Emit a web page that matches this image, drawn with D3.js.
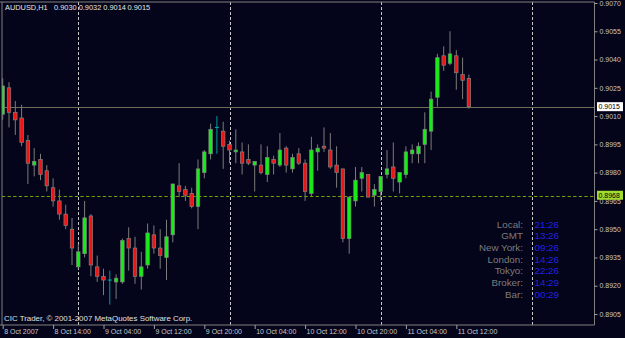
<!DOCTYPE html>
<html>
<head>
<meta charset="utf-8">
<script src="https://d3js.org/d3.v7.min.js"></script>
<style>
  body { margin: 0; background: #04041a; }
  svg { display: block; font-family: "Liberation Sans", Arial, sans-serif; }
</style>
</head>
<body>
<div id="chart"></div>
<script>
// AUDUSD H1 bars (oldest first)
var symbol = "AUDUSD,H1";

var opens = [0.9011, 0.9025, 0.9012, 0.9009, 0.8997, 0.8984, 0.8987, 0.8981, 0.8972, 0.8965,
  0.8958, 0.8950, 0.8930, 0.8937, 0.8957, 0.8930, 0.8925, 0.8923, 0.8922, 0.8922,
  0.8945, 0.8940, 0.8925, 0.8931, 0.8947, 0.8940, 0.8935, 0.8947, 0.8973, 0.8971,
  0.8969, 0.8962, 0.8980, 0.8990, 0.9004, 0.9002, 0.8995, 0.8991, 0.8991, 0.8987,
  0.8984, 0.8984, 0.8979, 0.8987, 0.8984, 0.8993, 0.8982, 0.8990, 0.8985, 0.8969,
  0.8991, 0.8994, 0.8992, 0.8984, 0.8982, 0.8945, 0.8965, 0.8977, 0.8979, 0.8968,
  0.8970, 0.8979, 0.8983, 0.8975, 0.8979, 0.8990, 0.8990, 0.8995, 0.9002, 0.9020,
  0.9042, 0.9038, 0.9042, 0.9032, 0.9030];

var highs = [0.9030, 0.9028, 0.9018, 0.9016, 0.9000, 0.8993, 0.8990, 0.8984, 0.8977, 0.8971,
  0.8963, 0.8956, 0.8942, 0.8965, 0.8958, 0.8936, 0.8929, 0.8928, 0.8926, 0.8945,
  0.8951, 0.8946, 0.8938, 0.8953, 0.8952, 0.8950, 0.8955, 0.8974, 0.8985, 0.8973,
  0.8972, 0.8987, 0.8992, 0.9006, 0.9010, 0.9007, 0.8997, 0.9003, 0.8996, 0.8995,
  0.8986, 0.8995, 0.8994, 0.8989, 0.9001, 0.8994, 0.8990, 0.8993, 0.8987, 0.8999,
  0.8995, 0.9004, 0.9001, 0.8994, 0.8982, 0.8967, 0.8983, 0.8983, 0.8979, 0.8974,
  0.8978, 0.8992, 0.8996, 0.8980, 0.8994, 0.8995, 0.8996, 0.9012, 0.9023, 0.9043,
  0.9047, 0.9055, 0.9045, 0.9041, 0.9032];

var lows = [0.9008, 0.9004, 0.9000, 0.8994, 0.8974, 0.8978, 0.8976, 0.8970, 0.8962, 0.8955,
  0.8950, 0.8931, 0.8929, 0.8935, 0.8925, 0.8922, 0.8915, 0.8910, 0.8913, 0.8921,
  0.8928, 0.8921, 0.8918, 0.8929, 0.8937, 0.8929, 0.8923, 0.8943, 0.8967, 0.8965,
  0.8961, 0.8950, 0.8977, 0.8987, 0.8990, 0.8982, 0.8985, 0.8985, 0.8979, 0.8984,
  0.8970, 0.8979, 0.8975, 0.8979, 0.8983, 0.8980, 0.8980, 0.8984, 0.8965, 0.8967,
  0.8981, 0.8991, 0.8982, 0.8972, 0.8943, 0.8937, 0.8962, 0.8970, 0.8967, 0.8962,
  0.8965, 0.8977, 0.8970, 0.8969, 0.8977, 0.8985, 0.8985, 0.8985, 0.8992, 0.9015,
  0.9034, 0.9037, 0.9024, 0.9019, 0.9014];

var closes = [0.9026, 0.9012, 0.9008, 0.8996, 0.8985, 0.8986, 0.8979, 0.8973, 0.8965, 0.8958,
  0.8952, 0.8940, 0.8938, 0.8956, 0.8931, 0.8925, 0.8923, 0.8923, 0.8924, 0.8944,
  0.8940, 0.8925, 0.8930, 0.8948, 0.8940, 0.8936, 0.8946, 0.8974, 0.8970, 0.8968,
  0.8962, 0.8982, 0.8991, 0.9003, 0.9004, 0.8994, 0.8992, 0.8992, 0.8985, 0.8985,
  0.8986, 0.8980, 0.8988, 0.8985, 0.8992, 0.8984, 0.8988, 0.8985, 0.8970, 0.8992,
  0.8993, 0.8993, 0.8983, 0.8980, 0.8945, 0.8967, 0.8976, 0.8980, 0.8967, 0.8971,
  0.8978, 0.8982, 0.8977, 0.8980, 0.8991, 0.8992, 0.8994, 0.9003, 0.9019, 0.9041,
  0.9037, 0.9043, 0.9033, 0.9029, 0.9015];

// time axis: one label every 8 bars
var timeTickBars = [0, 8, 16, 24, 32, 40, 48, 56, 64, 72];
var timeLabels = ["8 Oct 2007", "8 Oct 14:00", "9 Oct 04:00", "9 Oct 12:00", "9 Oct 20:00",
  "10 Oct 04:00", "10 Oct 12:00", "10 Oct 20:00", "11 Oct 04:00", "11 Oct 12:00"];
// vertical grid at day breaks
var dayBreakBars = [12, 36, 60, 84];

var priceTicks = [0.9070, 0.9055, 0.9040, 0.9025, 0.9010, 0.8995, 0.8980, 0.8965, 0.8950, 0.8935, 0.8920, 0.8905];
var bidPrice = 0.9015;
var levelPrice = 0.8968;

var clockLabels = ["Local:", "GMT", "New York:", "London:", "Tokyo:", "Broker:", "Bar:"];
var clockValues = ["21:26", "13:26", "09:26", "14:26", "22:26", "14:29", "00:29"];

var svgWidth = 625;
var svgHeight = 338;
var plot = { left: 2, top: 2, right: 594.5, bottom: 325 };

var svg = d3.select("#chart")
  .append("svg")
  .attr("width", svgWidth)
  .attr("height", svgHeight);

svg.append("rect")
  .attr("width", svgWidth)
  .attr("height", svgHeight)
  .attr("fill", "#04041a");

var xScale = d3.scaleLinear()
  .domain([0, 74])
  .range([2.7, 2.7 + 74 * 6.3]);

var yScale = d3.scaleLinear()
  .domain([0.8905, 0.9070])
  .range([314, 3]);

// snap a horizontal line onto a pixel row
function rowY(price) {
  return Math.floor(yScale(price)) + 1.5;
}

svg.append("clipPath")
  .attr("id", "plotclip")
  .append("rect")
  .attr("x", plot.left)
  .attr("y", plot.top)
  .attr("width", plot.right - plot.left)
  .attr("height", plot.bottom - plot.top);

var plotGroup = svg.append("g").attr("clip-path", "url(#plotclip)");

// day separators
plotGroup.selectAll(".daybreak")
  .data(dayBreakBars)
  .enter()
  .append("line")
  .attr("x1", d => Math.round(xScale(d)) + 0.5)
  .attr("x2", d => Math.round(xScale(d)) + 0.5)
  .attr("y1", plot.top)
  .attr("y2", plot.bottom)
  .attr("stroke", "#c8c8c8")
  .attr("stroke-width", 1)
  .attr("stroke-dasharray", "3,2");

// bid line and the horizontal level
plotGroup.append("line")
  .attr("x1", plot.left).attr("x2", plot.right)
  .attr("y1", rowY(bidPrice)).attr("y2", rowY(bidPrice))
  .attr("stroke", "#6e6e58")
  .attr("stroke-width", 1);

plotGroup.append("line")
  .attr("x1", plot.left).attr("x2", plot.right)
  .attr("y1", rowY(levelPrice)).attr("y2", rowY(levelPrice))
  .attr("stroke", "#74a000")
  .attr("stroke-width", 1)
  .attr("stroke-dasharray", "3.3,2.3");

var bars = opens.map(function(o, i) {
  return { i: i, open: o, high: highs[i], low: lows[i], close: closes[i] };
});

// wicks
plotGroup.selectAll(".wick")
  .data(bars)
  .enter()
  .append("line")
  .attr("x1", d => xScale(d.i))
  .attr("x2", d => xScale(d.i))
  .attr("y1", d => yScale(d.high))
  .attr("y2", d => yScale(d.low))
  .attr("stroke", d => d.open === d.close ? "#009c9c" : "#7c7c7c")
  .attr("stroke-width", 1);

// bodies
plotGroup.selectAll(".body")
  .data(bars.filter(d => d.open !== d.close))
  .enter()
  .append("rect")
  .attr("x", d => xScale(d.i) - 1.75)
  .attr("width", 3.5)
  .attr("y", d => yScale(Math.max(d.open, d.close)))
  .attr("height", d => Math.max(1, Math.abs(yScale(d.open) - yScale(d.close))))
  .attr("fill", d => d.close > d.open ? "#12f012" : "#f01414")
  .attr("stroke", "#808080")
  .attr("stroke-width", 0.7);

// doji ticks
plotGroup.selectAll(".doji")
  .data(bars.filter(d => d.open === d.close))
  .enter()
  .append("line")
  .attr("x1", d => xScale(d.i) - 2)
  .attr("x2", d => xScale(d.i) + 2)
  .attr("y1", d => yScale(d.open))
  .attr("y2", d => yScale(d.open))
  .attr("stroke", "#00b4b4")
  .attr("stroke-width", 1);

// frame
svg.append("line")
  .attr("x1", 0).attr("x2", plot.right)
  .attr("y1", plot.top).attr("y2", plot.top)
  .attr("stroke", "#808080");
svg.append("line")
  .attr("x1", plot.left).attr("x2", plot.left)
  .attr("y1", plot.top).attr("y2", plot.bottom)
  .attr("stroke", "#808080");
svg.append("line")
  .attr("x1", 0).attr("x2", plot.right)
  .attr("y1", plot.bottom).attr("y2", plot.bottom)
  .attr("stroke", "#808080");
svg.append("line")
  .attr("x1", plot.right).attr("x2", plot.right)
  .attr("y1", plot.top).attr("y2", plot.bottom)
  .attr("stroke", "#808080");

// price axis on the right
var rightAxis = d3.axisRight(yScale)
  .tickValues(priceTicks)
  .tickFormat(d3.format(".4f"))
  .tickSize(3)
  .tickPadding(2);

var yAxis = svg.append("g")
  .attr("transform", `translate(${plot.right}, 0)`)
  .call(rightAxis);
yAxis.select(".domain").remove();
yAxis.selectAll("line").attr("stroke", "#a0a0a0");
yAxis.selectAll("text")
  .attr("fill", "#c8c8c8")
  .attr("font-size", "7px")
  .attr("font-family", "Liberation Sans, Arial, sans-serif");

// time axis at the bottom
var bottomAxis = d3.axisBottom(xScale)
  .tickValues(timeTickBars)
  .tickFormat((d, i) => timeLabels[i])
  .tickSize(4);

var xAxis = svg.append("g")
  .attr("transform", `translate(0, ${plot.bottom})`)
  .call(bottomAxis);
xAxis.select(".domain").remove();
xAxis.selectAll("line").attr("stroke", "#a0a0a0");
xAxis.selectAll("text")
  .attr("fill", "#c8c8c8")
  .attr("font-size", "7px")
  .attr("font-family", "Liberation Sans, Arial, sans-serif")
  .attr("text-anchor", "start")
  .attr("dx", 1)
  .attr("y", 3)
  .attr("dy", "0.9em");

// price tags for the bid and the level
function priceTag(price, bg) {
  var tag = svg.append("g");
  tag.append("rect")
    .attr("x", 597)
    .attr("y", yScale(price) - 4.5)
    .attr("width", 26)
    .attr("height", 9)
    .attr("fill", bg);
  tag.append("text")
    .attr("x", 598.5)
    .attr("y", yScale(price) + 2.6)
    .attr("font-size", "7px")
    .attr("fill", "#000")
    .text(d3.format(".4f")(price));
}
priceTag(bidPrice, "#ffffff");
priceTag(levelPrice, "#9fdc2c");

// header: symbol then O H L C of the last bar
var last = bars[bars.length - 1];
var fmt = d3.format(".4f");
var headerParts = [symbol, fmt(last.open), fmt(last.high), fmt(last.low), fmt(last.close)];
var headerX = [5, 54, 78.7, 103.3, 127.5];

svg.append("g")
  .selectAll("text")
  .data(headerParts)
  .enter()
  .append("text")
  .attr("x", (d, i) => headerX[i])
  .attr("y", 10)
  .attr("font-size", "7.4px")
  .attr("fill", "#e6e6e6")
  .text(d => d);

svg.append("text")
  .attr("x", 4)
  .attr("y", 320.7)
  .attr("font-size", "7.9px")
  .attr("fill", "#e0e0e0")
  .text("CIC Trader, \u00a9 2001-2007 MetaQuotes Software Corp.");

// clock panel
var clockGroup = svg.append("g");
clockGroup.selectAll(".clabel")
  .data(clockLabels)
  .enter()
  .append("text")
  .attr("x", 523)
  .attr("y", (d, i) => 227.7 + i * 11.67)
  .attr("text-anchor", "end")
  .attr("font-size", "9.8px")
  .attr("fill", "#7c7c7c")
  .text(d => d);

clockGroup.selectAll(".cvalue")
  .data(clockValues)
  .enter()
  .append("text")
  .attr("x", 534.5)
  .attr("y", (d, i) => 227.7 + i * 11.67)
  .attr("font-size", "9.8px")
  .attr("fill", "#2222e0")
  .text(d => d);
</script>
</body>
</html>
